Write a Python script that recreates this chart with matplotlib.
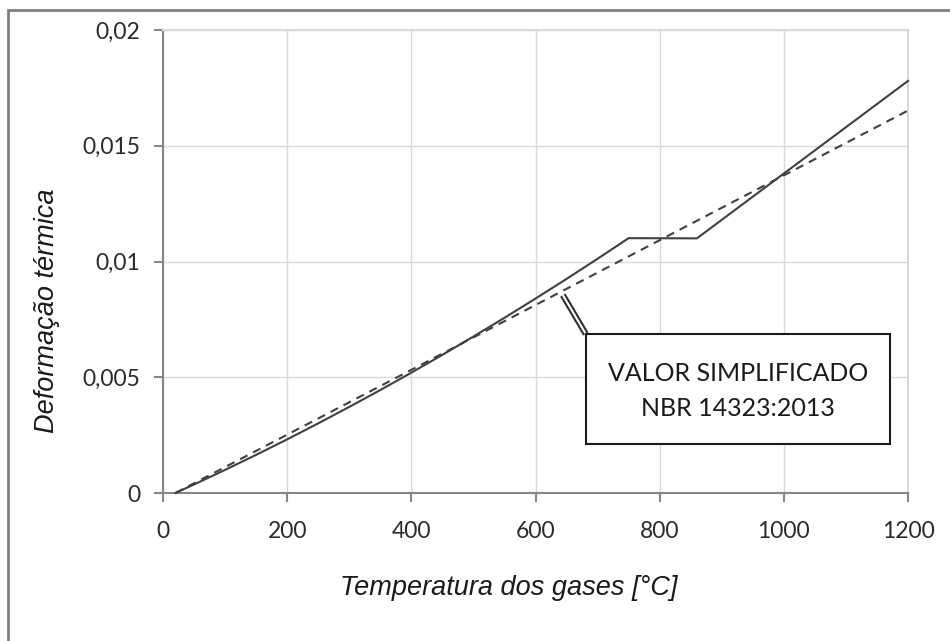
import matplotlib
matplotlib.use("Agg")
import matplotlib.pyplot as plt
from matplotlib.patches import Rectangle

# Thermal elongation of steel vs gas temperature
temp_solid = [20, 50, 100, 150, 200, 250, 300, 350, 400, 450, 500, 550,
              600, 650, 700, 750, 860, 1200]
strain_solid = [0.0, 0.000368, 0.000998, 0.001648, 0.002318, 0.003008,
                0.003718, 0.004448, 0.005198, 0.005968, 0.006758, 0.007568,
                0.008398, 0.009248, 0.010118, 0.011008, 0.011, 0.0178]

temp_simpl = [20, 1200]
strain_simpl = [0.0, 0.01652]

x_ticks = [0, 200, 400, 600, 800, 1000, 1200]
y_ticks = [0, 0.005, 0.01, 0.015, 0.02]
y_tick_labels = ["0", "0,005", "0,01", "0,015", "0,02"]

W, H = 950, 641
fig = plt.figure(figsize=(W / 100, H / 100), dpi=100)
ax = fig.add_axes([163 / W, 1 - 493 / H, (908 - 163) / W, (493 - 30) / H])

grid_c = "#d9d9d9"
spine_c = "#868686"
line_c = "#404040"
tick_font = "Lato"

ax.plot(temp_solid, strain_solid, color=line_c, lw=1.5, solid_joinstyle="miter",
        zorder=3, clip_on=False)
ax.plot(temp_simpl, strain_simpl, color=line_c, lw=1.5, dashes=(4, 3),
        zorder=3, clip_on=False)

ax.set_xlim(0, 1200)
ax.set_ylim(0, 0.02)
ax.set_xticks(x_ticks)
ax.set_xticklabels([str(t) for t in x_ticks])
ax.set_yticks(y_ticks)
ax.set_yticklabels(y_tick_labels)

ax.grid(True, color=grid_c, lw=1.0, zorder=0)
ax.set_axisbelow(True)
for side in ("top", "right"):
    ax.spines[side].set_color(grid_c)
    ax.spines[side].set_linewidth(1.5)
for side in ("left", "bottom"):
    ax.spines[side].set_color(spine_c)
    ax.spines[side].set_linewidth(1.5)

ax.tick_params(axis="both", direction="out", length=6.5, width=1.5,
               color=spine_c, labelcolor="#2b2b2b", labelsize=16.5)
ax.tick_params(axis="x", pad=14)
ax.tick_params(axis="y", pad=10)
for lab in ax.get_xticklabels() + ax.get_yticklabels():
    lab.set_fontfamily(tick_font)

# Axis titles
fig.text(509 / W, 1 - 588 / H, "Temperatura dos gases [°C]",
         fontfamily="Liberation Sans", style="italic", fontsize=19.5,
         color="#1a1a1a", ha="center", va="center")
fig.text(47 / W, 1 - 311 / H, "Deformação térmica", rotation=90,
         fontfamily="Liberation Sans", style="italic", fontsize=19.5,
         color="#1a1a1a", ha="center", va="center")

# Callout box with double leader line
x0, y0 = 644, 0.00855
x1, y1 = 681, 0.00687
ax.plot([x0, x1], [y0, y1], color="#303030", lw=4.5, solid_capstyle="butt",
        zorder=4)
ax.plot([x0, x1], [y0, y1], color="white", lw=1.5, solid_capstyle="butt",
        zorder=5)
box = Rectangle((681, 0.00212), 1171 - 681, 0.00687 - 0.00212,
                facecolor="white", edgecolor="#1a1a1a", lw=1.5, zorder=6)
ax.add_patch(box)
ax.text((681 + 1171) / 2, 0.00518, "VALOR SIMPLIFICADO", ha="center",
        va="center", fontsize=18, fontfamily="Lato", color="#1a1a1a", zorder=7)
ax.text((681 + 1171) / 2, 0.00367, "NBR 14323:2013", ha="center",
        va="center", fontsize=18, fontfamily="Lato", color="#1a1a1a", zorder=7)

# Outer chart frame (top and left edges visible)
frame = Rectangle((8 / W, -0.1), 1.2, (1 - 10 / H) + 0.1,
                  transform=fig.transFigure, fill=False,
                  edgecolor="#7f7f7f", lw=2, zorder=0)
fig.patches.append(frame)

fig.savefig("out.png", dpi=100, facecolor="white")
